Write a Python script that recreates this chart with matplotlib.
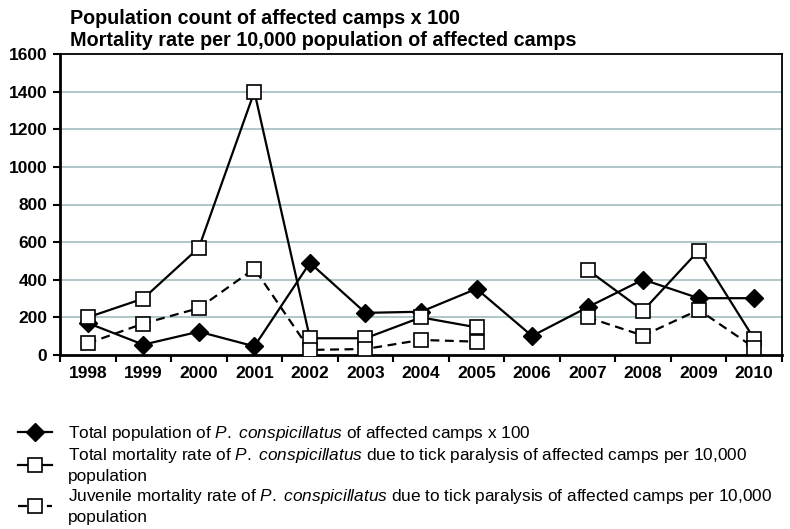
import numpy as np
import matplotlib
matplotlib.use("Agg")
import matplotlib.pyplot as plt
from matplotlib.ticker import FixedLocator

years = ["1998", "1999", "2000", "2001", "2002", "2003", "2004",
         "2005", "2006", "2007", "2008", "2009", "2010"]
total_population = [170, 55, 124, 46, 490, 224, 230, 352, 101, 254, 401, 302, 302]
total_mortality = [200, 300, 570, 1400, 89, 89, 200, 147, np.nan, 453, 236, 555, 85]
juvenile_mortality = [62, 167, 249, 459, 27, 32, 80, 71, np.nan, 200, 103, 240, 39]
y_ticks = [0, 200, 400, 600, 800, 1000, 1200, 1400, 1600]

title_lines = ["Population count of affected camps x 100",
               "Mortality rate per 10,000 population of affected camps"]
labels = [
    r"Total population of $\it{P.}$ $\it{conspicillatus}$ of affected camps x 100",
    r"Total mortality rate of $\it{P.}$ $\it{conspicillatus}$ due to tick paralysis of affected camps per 10,000" + "\npopulation",
    r"Juvenile mortality rate of $\it{P.}$ $\it{conspicillatus}$ due to tick paralysis of affected camps per 10,000" + "\npopulation",
]

plt.rcParams['font.family'] = ['Liberation Sans', 'DejaVu Sans']
plt.rcParams['mathtext.fontset'] = 'custom'
plt.rcParams['mathtext.it'] = 'Liberation Sans:italic'
plt.rcParams['mathtext.rm'] = 'Liberation Sans'

fig = plt.figure(figsize=(7.9, 5.29), dpi=100)
ax = fig.add_axes([60/790, 1 - 355/529, (782 - 60)/790, (355 - 54)/529])

x = np.arange(len(years))
l1, = ax.plot(x, total_population, color='black', lw=1.6, marker='D', ms=9,
              mfc='black', mec='black', zorder=3)
l2, = ax.plot(x, total_mortality, color='black', lw=1.6, marker='s', ms=9.5,
              mfc='white', mec='black', mew=1.2, zorder=4)
l3, = ax.plot(x, juvenile_mortality, color='black', lw=1.6, ls=(0, (4, 2.5)), marker='s', ms=9.5,
              mfc='white', mec='black', mew=1.2, zorder=5)

ax.set_xlim(-0.5, len(years) - 0.5)
ax.set_ylim(0, 1600)
ax.set_yticks(y_ticks)
ax.set_yticklabels([str(v) for v in y_ticks], fontsize=12.5, fontweight='bold')
ax.set_xticks(x)
ax.set_xticklabels(years, fontsize=12.5, fontweight='bold')
ax.xaxis.set_minor_locator(FixedLocator(np.arange(-0.5, len(years), 1.0)))
ax.tick_params(axis='x', which='major', length=0, pad=8)
ax.tick_params(axis='x', which='minor', length=5, width=1.5, direction='out')
ax.tick_params(axis='y', which='major', length=5, width=1.5, direction='out', pad=4)

for v in y_ticks[1:-1]:
    ax.axhline(v, color='#a9c3c6', lw=1.3, zorder=1)

for s in ['left', 'bottom']:
    ax.spines[s].set_linewidth(2)
for s in ['top', 'right']:
    ax.spines[s].set_linewidth(1.3)

fig.text(70/790, 1 - 19/529, title_lines[0], fontsize=14.2, fontweight='bold', va='center', ha='left')
fig.text(70/790, 1 - 41/529, title_lines[1], fontsize=14.2, fontweight='bold', va='center', ha='left')

leg = fig.legend([l1, l2, l3], labels, loc='upper left', bbox_to_anchor=(18/790, 1 - 424/529),
                 frameon=False, fontsize=12.4, handlelength=2.0, handletextpad=0.9,
                 labelspacing=0.2, borderaxespad=0, borderpad=0)
for t in leg.get_texts():
    t.set_linespacing(1.3)

fig.savefig("out.png", dpi=100)
